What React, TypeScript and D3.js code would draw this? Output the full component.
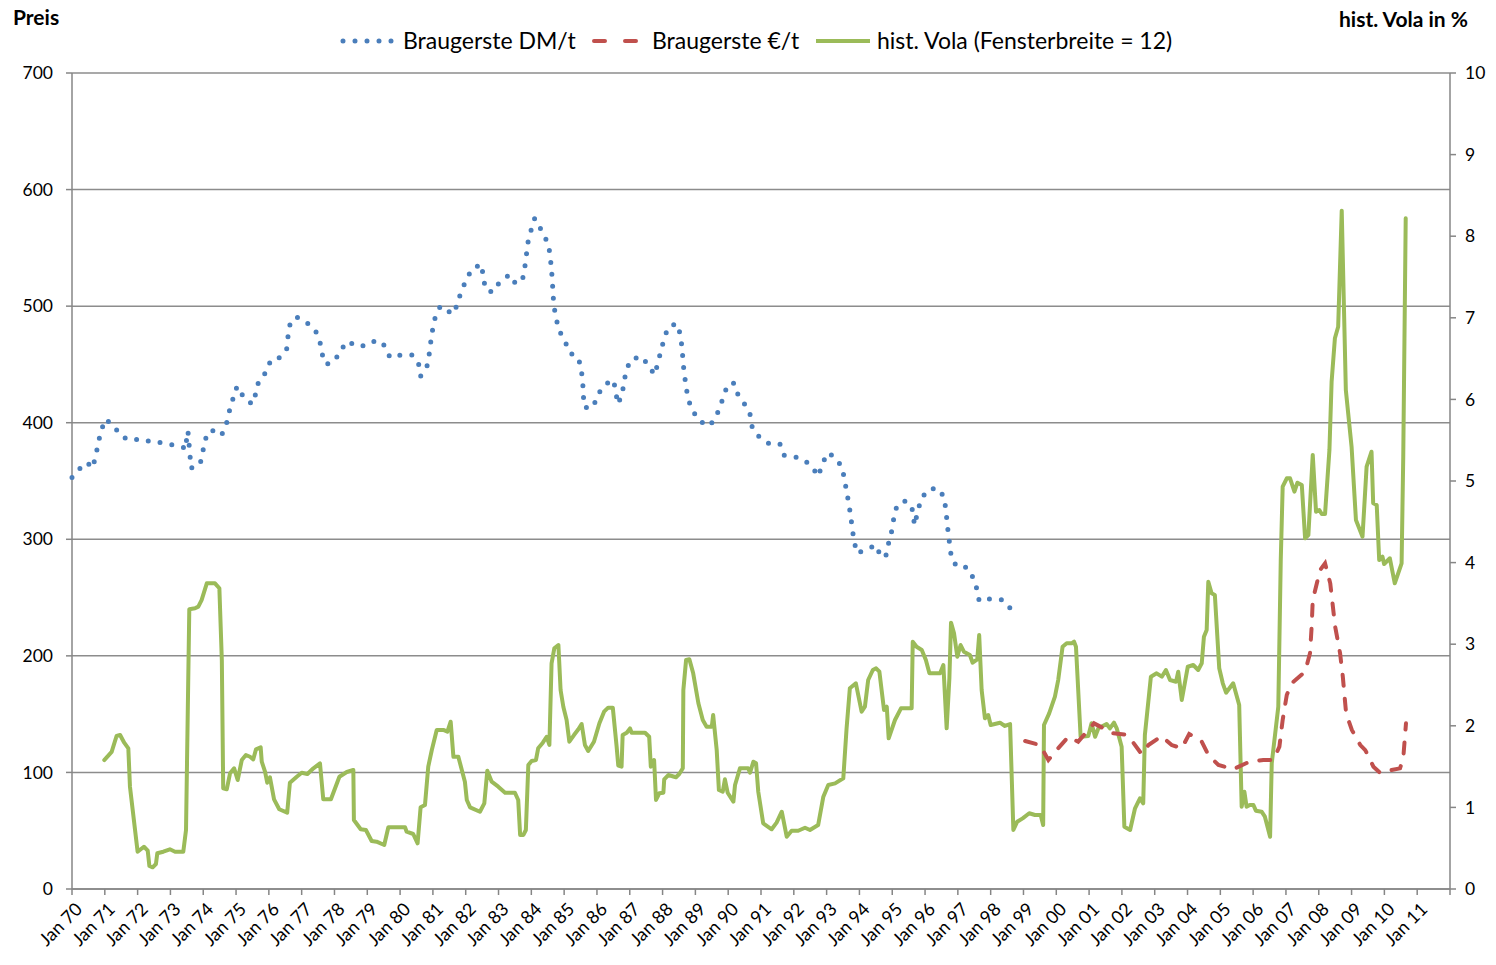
import React from "react";
import * as d3 from "d3";

// months since Jan 1970, price DM/t
const braugersteDM: [number, number][] = [
  [0, 353], [3, 361], [5.6, 366], [7.4, 361], [8.7, 371], [9.5, 382], [10.7, 393], [12.1, 403],
  [15.1, 398], [17.7, 389], [21.1, 385], [25.6, 386], [29.6, 383], [32.7, 383], [36.9, 381],
  [40.7, 379], [41.4, 377], [42.0, 387], [42.4, 393], [42.8, 382], [43.2, 371], [43.5, 361],
  [46.8, 364], [47.8, 374], [48.5, 385], [50.9, 394], [54.6, 389], [56.3, 397], [57.3, 408],
  [58.6, 418], [59.7, 429], [61.2, 431], [62.7, 421], [66.1, 416], [67.2, 425], [68.3, 436],
  [71.2, 444], [72.7, 454], [76.1, 456], [78.5, 463], [79.0, 474], [79.7, 484], [81.9, 491],
  [85.8, 486], [89.0, 479], [90.6, 471], [91.3, 460], [92.9, 450], [96.2, 453], [98.0, 462],
  [101.2, 470], [103.4, 466], [107.5, 466], [111.4, 471], [114.4, 466], [116.3, 456],
  [120.2, 458], [124.6, 458], [126.8, 450], [127.5, 440], [129.8, 448], [130.6, 458],
  [131.2, 469], [131.9, 480], [132.8, 490], [134.7, 500], [138.0, 495], [139.2, 493],
  [141.1, 502], [142.3, 513], [144.2, 522], [146.2, 532], [149.8, 536], [150.4, 525],
  [151.3, 514], [153.9, 512], [156.5, 521], [160.1, 527], [162.3, 519], [164.8, 523],
  [165.6, 533], [166.2, 544], [166.8, 555], [167.9, 565], [169.2, 575], [170.3, 573],
  [171.9, 563], [174.2, 554], [174.9, 543], [175.3, 533], [175.7, 522], [175.9, 511],
  [176.3, 500], [177.0, 490], [178.2, 479], [180.3, 470], [182.0, 460], [185.2, 456],
  [186.3, 445], [186.8, 435], [187.0, 424], [187.4, 413], [190.6, 413], [192.1, 423],
  [194.5, 432], [197.9, 437], [199.0, 427], [199.4, 416], [201.0, 422], [201.8, 433],
  [202.6, 444], [204.3, 454], [208.1, 457], [211.0, 449], [213.0, 441], [214.3, 451],
  [215.4, 462], [216.6, 472], [218.0, 482], [221.2, 485], [222.6, 475], [223.1, 464],
  [223.5, 453], [223.9, 442], [224.6, 432], [225.2, 421], [226.9, 411], [229.2, 402],
  [232.9, 397], [235.2, 403], [236.9, 413], [238.4, 423], [239.8, 433], [242.1, 434],
  [243.6, 424], [246.0, 416], [248.0, 407], [248.8, 396], [251.3, 388], [255.0, 382],
  [258.9, 382], [260.5, 372], [264.1, 371], [267.8, 368], [270.8, 362], [272.9, 354],
  [274.4, 364], [276.2, 374], [278.9, 371], [281.6, 362], [282.5, 352], [283.3, 341],
  [284.1, 331], [284.8, 320], [285.4, 309], [286.0, 299], [287.1, 288], [290.4, 291],
  [294.1, 295], [295.8, 285], [297.6, 285], [298.6, 296], [299.8, 307], [300.5, 317],
  [301.6, 328], [304.3, 333], [307.1, 329], [307.7, 319], [308.2, 312], [309.2, 323],
  [310.4, 333], [312.6, 342], [316.4, 344], [318.8, 337], [319.6, 326], [320.0, 316],
  [320.5, 305], [321.1, 294], [321.7, 283], [323.9, 276], [327.2, 276], [329.6, 267],
  [331.0, 257], [331.8, 247], [336.0, 249], [340.5, 248], [343.1, 241], [346.4, 246],
];

// months since Jan 1970, price €/t
const braugersteEUR: [number, number][] = [
  [348.6, 127], [354.0, 123.5], [357.1, 110.7], [360.1, 119.2], [364.4, 130.6], [368.0, 126.4],
  [373.8, 142.1], [380.8, 133.6], [385.1, 132.5], [387.0, 129.3], [391.2, 115.8], [393.7, 123.5],
  [398.5, 131.2], [402.2, 123.5], [405.9, 120.7], [408.6, 133.0], [413.2, 126.4], [415.6, 115.0],
  [419.3, 106.4], [424.7, 102.7], [430.2, 108.7], [435.7, 110.7], [439.4, 110.7], [441.6, 122.1],
  [442.8, 145.0], [444.3, 166.4], [446.1, 176.5], [451.0, 186.4], [452.8, 202.2], [453.4, 225.0],
  [453.8, 247.9], [456.5, 273.6], [458.3, 279.4], [460.2, 262.2], [462.0, 225.0], [463.8, 202.2],
  [464.8, 182.1], [466.0, 150.7], [468.1, 136.4], [471.2, 123.5], [473.0, 119.2], [476.0, 104.9],
  [478.4, 99.7], [481.4, 101.5], [485.7, 103.5], [486.9, 112.1], [487.9, 142.1],
];

// months since Jan 1970, historical volatility in %
const histVola: [number, number][] = [
  [11.8, 1.58], [14.5, 1.68], [16.3, 1.875], [17.6, 1.887], [19.1, 1.793], [20.6, 1.724],
  [21.2, 1.254], [24.0, 0.457], [26.3, 0.518], [27.7, 0.469], [28.3, 0.282], [29.5, 0.266],
  [30.7, 0.306], [31.2, 0.438], [33.4, 0.457], [35.8, 0.487], [37.7, 0.457], [40.7, 0.457],
  [41.7, 0.723], [42.9, 3.428], [45.0, 3.44], [46.2, 3.46], [47.4, 3.54], [49.3, 3.746],
  [52.3, 3.746], [53.9, 3.685], [54.8, 2.806], [55.3, 1.234], [56.6, 1.222], [57.8, 1.418],
  [59.3, 1.479], [60.6, 1.336], [62.1, 1.581], [63.6, 1.642], [65.1, 1.621], [66.3, 1.589],
  [67.3, 1.712], [69.0, 1.737], [69.4, 1.56], [70.6, 1.438], [71.4, 1.303], [72.4, 1.369],
  [73.9, 1.099], [75.8, 0.977], [78.7, 0.935], [79.7, 1.303], [82.2, 1.376], [84.0, 1.425],
  [86.1, 1.409], [88.3, 1.479], [90.7, 1.54], [91.9, 1.099], [94.7, 1.099], [97.8, 1.376],
  [100.5, 1.434], [102.9, 1.458], [103.1, 0.846], [105.6, 0.732], [107.5, 0.723], [109.6, 0.588],
  [111.4, 0.58], [114.2, 0.539], [115.7, 0.756], [121.8, 0.756], [122.4, 0.702], [124.8, 0.674],
  [126.4, 0.56], [127.5, 1.001], [129.1, 1.029], [130.3, 1.499], [131.6, 1.703], [133.4, 1.949],
  [135.8, 1.949], [137.3, 1.928], [138.5, 2.05], [139.5, 1.621], [141.3, 1.621], [143.7, 1.315],
  [144.4, 1.091], [145.6, 1.001], [149.2, 0.947], [150.8, 1.05], [151.9, 1.45], [153.5, 1.315],
  [155.9, 1.254], [158.4, 1.18], [162.0, 1.18], [163.2, 1.091], [163.9, 0.662], [165.1, 0.662],
  [166.0, 0.723], [166.9, 1.52], [168.1, 1.569], [169.7, 1.581], [170.5, 1.724], [172.2, 1.793],
  [173.6, 1.866], [174.6, 1.765], [175.4, 2.766], [176.4, 2.95], [177.9, 2.99], [178.7, 2.439],
  [179.7, 2.234], [180.9, 2.071], [181.9, 1.805], [183.6, 1.887], [185.2, 1.957], [186.4, 2.022],
  [187.6, 1.765], [188.8, 1.691], [190.9, 1.805], [192.9, 2.031], [194.6, 2.173], [196.1, 2.222],
  [197.8, 2.222], [199.2, 1.744], [199.8, 1.511], [201.0, 1.499], [201.4, 1.887], [202.9, 1.915],
  [204.1, 1.969], [204.7, 1.915], [209.6, 1.915], [211.1, 1.866], [211.7, 1.499], [212.9, 1.581],
  [213.6, 1.091], [214.8, 1.173], [216.3, 1.18], [216.6, 1.344], [218.1, 1.397], [220.9, 1.369],
  [222.1, 1.409], [223.4, 1.479], [223.6, 2.439], [224.6, 2.806], [225.8, 2.815], [227.2, 2.643],
  [229.1, 2.276], [230.7, 2.071], [232.1, 1.989], [234.0, 1.989], [234.5, 2.132], [235.8, 1.703],
  [236.6, 1.213], [238.0, 1.192], [238.8, 1.344], [239.8, 1.18], [241.9, 1.07], [242.5, 1.275],
  [244.3, 1.479], [247.3, 1.479], [248.0, 1.425], [249.2, 1.56], [250.2, 1.54], [251.0, 1.192],
  [252.8, 0.805], [255.9, 0.732], [257.7, 0.813], [259.6, 0.947], [261.4, 0.641], [263.2, 0.714],
  [265.6, 0.714], [268.1, 0.751], [269.9, 0.723], [272.9, 0.784], [274.8, 1.131], [276.6, 1.275],
  [279.1, 1.295], [282.1, 1.357], [283.3, 1.969], [284.5, 2.46], [286.7, 2.521], [288.8, 2.173],
  [290.0, 2.234], [291.2, 2.561], [292.9, 2.684], [294.1, 2.705], [295.3, 2.663], [297.0, 2.194],
  [298.0, 2.234], [298.7, 1.847], [301.0, 2.071], [303.2, 2.214], [305.3, 2.214], [307.1, 2.214],
  [307.5, 3.031], [308.9, 2.969], [310.8, 2.929], [312.3, 2.806], [313.6, 2.643], [317.5, 2.643],
  [318.7, 2.745], [319.9, 1.969], [320.9, 2.582], [321.5, 3.264], [322.6, 3.134], [323.8, 2.847],
  [325.0, 2.99], [326.2, 2.908], [328.4, 2.868], [329.4, 2.773], [331.1, 2.815], [331.8, 3.113],
  [332.7, 2.439], [333.9, 2.092], [335.1, 2.132], [336.0, 2.01], [339.4, 2.038], [341.2, 1.998],
  [343.1, 2.022], [344.3, 0.723], [345.7, 0.825], [347.7, 0.866], [350.1, 0.928], [352.2, 0.907],
  [354.3, 0.907], [355.2, 0.784], [355.5, 2.01], [357.4, 2.153], [359.5, 2.357], [360.7, 2.561],
  [362.3, 2.969], [363.8, 3.011], [365.6, 3.011], [366.5, 3.031], [367.2, 2.969], [368.9, 1.866],
  [371.7, 1.875], [372.9, 2.031], [374.2, 1.866], [375.4, 1.969], [378.4, 2.022], [379.6, 1.969],
  [381.1, 2.038], [382.1, 1.969], [383.9, 1.744], [384.9, 0.763], [387.0, 0.723], [388.8, 0.989],
  [390.6, 1.111], [391.8, 1.05], [392.4, 1.887], [394.6, 2.602], [396.7, 2.643], [398.6, 2.602],
  [400.1, 2.684], [401.6, 2.561], [403.8, 2.54], [404.6, 2.663], [405.9, 2.316], [408.1, 2.724],
  [410.1, 2.745], [411.9, 2.684], [413.2, 2.766], [414.0, 3.092], [415.0, 3.174], [415.6, 3.766],
  [416.8, 3.624], [418.0, 3.603], [419.6, 2.705], [420.9, 2.521], [422.1, 2.406], [424.7, 2.521],
  [426.9, 2.255], [427.8, 1.009], [428.8, 1.192], [429.6, 1.009], [430.8, 1.029], [432.1, 1.029],
  [433.0, 0.96], [435.1, 0.947], [436.3, 0.886], [438.2, 0.641], [438.8, 1.54], [441.2, 2.234],
  [442.1, 4.032], [442.8, 4.93], [444.3, 5.033], [445.5, 5.033], [447.1, 4.869], [448.2, 4.979],
  [449.8, 4.951], [451.0, 4.298], [452.2, 4.338], [453.8, 5.319], [455.0, 4.624], [456.2, 4.645],
  [457.1, 4.596], [458.3, 4.596], [459.9, 5.38], [460.7, 6.217], [461.9, 6.749], [463.1, 6.891],
  [464.4, 8.313], [465.9, 6.115], [468.0, 5.42], [469.6, 4.522], [472.0, 4.317], [473.5, 5.175],
  [475.3, 5.359], [475.9, 4.727], [477.2, 4.706], [478.1, 4.032], [479.3, 4.072], [479.9, 3.983],
  [482.0, 4.053], [483.8, 3.746], [486.3, 3.991], [486.9, 5.298], [487.8, 8.219],
];

const yearLabels: string[] = [
  "70", "71", "72", "73", "74", "75", "76", "77", "78", "79", "80", "81", "82", "83",
  "84", "85", "86", "87", "88", "89", "90", "91", "92", "93", "94", "95", "96", "97",
  "98", "99", "00", "01", "02", "03", "04", "05", "06", "07", "08", "09", "10", "11",
];
const leftTicks = [0, 100, 200, 300, 400, 500, 600, 700];
const rightTicks = [0, 1, 2, 3, 4, 5, 6, 7, 8, 9, 10];

const seriesNames = ["Braugerste DM/t", "Braugerste €/t", "hist. Vola (Fensterbreite = 12)"];

const W = 1496, H = 965;
const L = 72, R = 1450, T = 73, B = 889;
const FONT = "Lato, 'Open Sans', sans-serif";
const BLUE = "#4a7ebb", RED = "#c0504d", GREEN = "#9bbb59";
const AXIS = "#868686", GRID = "#8c8c8c";

export default function App() {
  const x = d3.scaleLinear().domain([0, 504]).range([L, R]);
  const yL = d3.scaleLinear().domain([0, 700]).range([B, T]);
  const yR = d3.scaleLinear().domain([0, 10]).range([B, T]);
  const lineL = d3.line<[number, number]>().x(d => x(d[0])).y(d => yL(d[1]));
  const lineR = d3.line<[number, number]>().x(d => x(d[0])).y(d => yR(d[1]));
  const monthTicks = d3.range(0, 505, 12);

  return (
    <div style={{ position: "absolute", left: 0, top: 0 }}>
      <svg width={W} height={H} style={{ display: "block", background: "#fff" }} fontFamily={FONT}>
        {/* gridlines */}
        {leftTicks.map(t => (
          <line key={"g" + t} x1={L} x2={R} y1={yL(t)} y2={yL(t)} stroke={GRID} strokeWidth={1.5} />
        ))}
        {/* axes */}
        <line x1={L} x2={L} y1={T} y2={B} stroke={AXIS} strokeWidth={1.5} />
        <line x1={R} x2={R} y1={T} y2={B} stroke={AXIS} strokeWidth={1.5} />
        <line x1={L} x2={R} y1={B} y2={B} stroke={AXIS} strokeWidth={1.5} />
        {leftTicks.map(t => (
          <g key={"l" + t}>
            <line x1={L - 6} x2={L} y1={yL(t)} y2={yL(t)} stroke={AXIS} strokeWidth={1.5} />
            <text x={L - 19} y={yL(t)} dy="0.35em" textAnchor="end" fontSize={17.5} fill="#000">{t}</text>
          </g>
        ))}
        {rightTicks.map(t => (
          <g key={"r" + t}>
            <line x1={R} x2={R + 6} y1={yR(t)} y2={yR(t)} stroke={AXIS} strokeWidth={1.5} />
            <text x={R + 15} y={yR(t)} dy="0.35em" textAnchor="start" fontSize={17.5} fill="#000">{t}</text>
          </g>
        ))}
        {monthTicks.map(m => (
          <line key={"x" + m} x1={x(m)} x2={x(m)} y1={B} y2={B + 6} stroke={AXIS} strokeWidth={1.5} />
        ))}
        {yearLabels.map((yl, i) => {
          const px = x(i * 12) + 7;
          const py = B + 17;
          return (
            <text key={"xl" + yl} x={px} y={py} textAnchor="end" fontSize={18} fill="#000"
              transform={`rotate(-45 ${px} ${py})`} dy="0.35em">{"Jan " + yl}</text>
          );
        })}
        {/* series */}
        <path d={lineR(histVola) || ""} fill="none" stroke={GREEN} strokeWidth={4} strokeLinejoin="round" strokeLinecap="round" />
        <path d={lineL(braugersteEUR) || ""} fill="none" stroke={RED} strokeWidth={4} strokeDasharray="11 13" strokeLinecap="round" />
        <path d={lineL(braugersteDM) || ""} fill="none" stroke={BLUE} strokeWidth={5} strokeDasharray="0 12" strokeLinecap="round" />
        {/* axis titles */}
        <text x={13} y={25} fontSize={21} fontWeight="bold" fill="#000">Preis</text>
        <text x={1468} y={27} fontSize={21} fontWeight="bold" fill="#000" textAnchor="end">hist. Vola in %</text>
        {/* legend */}
        <line x1={343} x2={396} y1={41} y2={41} stroke={BLUE} strokeWidth={5} strokeDasharray="0 12" strokeLinecap="round" />
        <text x={403} y={41} dy="0.35em" fontSize={23} fill="#000">{seriesNames[0]}</text>
        <line x1={594} x2={636} y1={41} y2={41} stroke={RED} strokeWidth={4} strokeDasharray="11 20" strokeLinecap="round" />
        <text x={652} y={41} dy="0.35em" fontSize={23} fill="#000">{seriesNames[1]}</text>
        <line x1={816} x2={870} y1={41} y2={41} stroke={GREEN} strokeWidth={4} />
        <text x={877} y={41} dy="0.35em" fontSize={23} fill="#000">{seriesNames[2]}</text>
      </svg>
    </div>
  );
}
